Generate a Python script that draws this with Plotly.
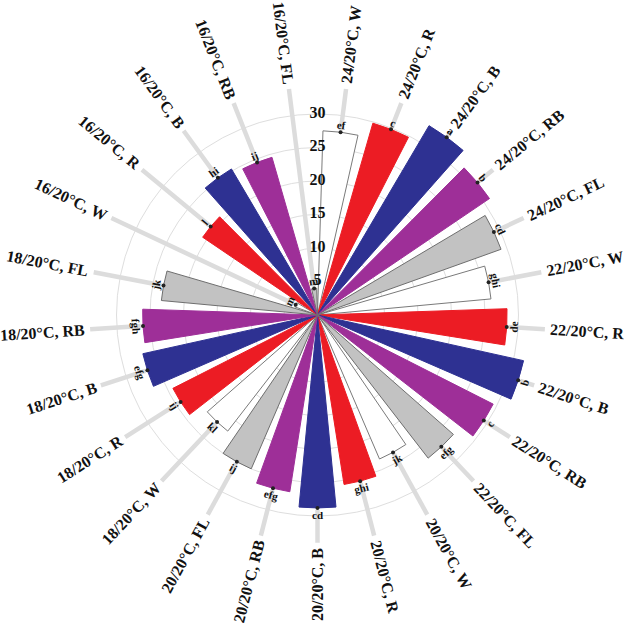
import math
import plotly.graph_objects as go

# ---- data -------------------------------------------------------------
temps = ["24/20°C", "22/20°C", "20/20°C", "18/20°C", "16/20°C"]
lights = ["W", "R", "B", "RB", "FL"]

# mean values per temperature regime, in light order W, R, B, RB, FL
vals_24 = [27.5, 29.8, 32.8, 31.0, 29.1]
vals_22 = [26.0, 28.3, 31.5, 29.4, 27.0]
vals_20 = [23.4, 25.6, 28.8, 26.7, 25.0]
vals_18 = [21.9, 24.2, 26.7, 26.1, 23.4]
vals_16 = [3.6, 20.7, 25.3, 24.5, 4.0]

# significance letters, same order
let_24 = ["ef", "c", "a", "b", "cd"]
let_22 = ["ghi", "de", "b", "c", "efg"]
let_20 = ["jk", "ghi", "cd", "efg", "ij"]
let_18 = ["kl", "ij", "efg", "fgh", "jk"]
let_16 = ["m", "l", "hi", "ij", "m"]

radial_ticks = [5, 10, 15, 20, 25, 30]

# ---- styling ------------------------------------------------------------
fills = {"W": "#ffffff", "R": "#ec1c24", "B": "#2e3192", "RB": "#9e2f98", "FL": "#c2c2c2"}
edges = {"W": "#7a7a7a", "R": "#ec1c24", "B": "#2e3192", "RB": "#9e2f98", "FL": "#6e6e6e"}
SERIF = "Liberation Serif, Times New Roman, serif"

W_PX, H_PX = 624, 623
CX, CY = 317.5, 315.0          # pixel centre of the polar area
PX_PER_UNIT = 201.0 / 30.0     # radial scale
R_MAX = 36.0                   # radial range upper bound
STEP = 360.0 / (len(temps) * len(lights))
BAR_W = 11.0

all_vals = [vals_24, vals_22, vals_20, vals_18, vals_16]
all_lets = [let_24, let_22, let_20, let_18, let_16]

cats, values, letters, thetas = [], [], [], []
for ti, t in enumerate(temps):
    for li, l in enumerate(lights):
        k = ti * len(lights) + li
        cats.append(f"{t}, {l}")
        values.append(all_vals[ti][li])
        letters.append(all_lets[ti][li])
        thetas.append(STEP / 2 + STEP * k)

fig = go.Figure()

# leader lines from bar tips out to the category labels
LEAD_END = 34.0
lr, lt = [], []
for v, th in zip(values, thetas):
    lr += [v + 0.3, LEAD_END, None]
    lt += [th, th, None]
fig.add_trace(go.Scatterpolar(r=lr, theta=lt, mode="lines",
                              line=dict(color="#dcdcdc", width=4.5),
                              hoverinfo="skip", showlegend=False))

# bars, one trace per light type
for li, l in enumerate(lights):
    rr = [all_vals[ti][li] for ti in range(len(temps))]
    tt = [thetas[ti * len(lights) + li] for ti in range(len(temps))]
    fig.add_trace(go.Barpolar(
        r=rr, theta=tt, width=BAR_W, name=l,
        marker=dict(color=fills[l], line=dict(color=edges[l], width=1)),
        showlegend=False,
    ))

# radial scale labels along the vertical axis
fig.add_trace(go.Scatterpolar(
    r=radial_ticks, theta=[0] * len(radial_ticks), mode="text",
    text=[str(t) for t in radial_ticks], textposition="middle center",
    textfont=dict(family=SERIF, size=16, color="#111111", weight="bold"),
    hoverinfo="skip", showlegend=False))

# small markers at bar tips
fig.add_trace(go.Scatterpolar(r=values, theta=thetas, mode="markers",
                              marker=dict(color="#222222", size=4),
                              hoverinfo="skip", showlegend=False))


def to_paper(r_px, th):
    a = math.radians(th)
    x = CX + r_px * math.sin(a)
    y = CY - r_px * math.cos(a)
    return x / W_PX, 1 - y / H_PX


# approximate glyph widths of a bold Times-like face, per em
CW = {"/": 0.278, "°": 0.4, "C": 0.722, ",": 0.25, " ": 0.25, "W": 1.0,
      "R": 0.722, "B": 0.667, "F": 0.611, "L": 0.667}


def text_width(s, size):
    return sum(CW.get(c, 0.5) for c in s) * size


annotations = []
LABEL_SIZE = 16
LABEL_START = 233.0
for c, th in zip(cats, thetas):
    w = text_width(c, LABEL_SIZE)
    x, y = to_paper(LABEL_START + w / 2, th)
    ang = th - 90 if th < 180 else th - 270
    annotations.append(dict(x=x, y=y, xref="paper", yref="paper", text=c,
                            showarrow=False, textangle=ang,
                            xanchor="center", yanchor="middle",
                            font=dict(family=SERIF, size=LABEL_SIZE, color="#111111",
                                      weight="bold")))

for v, s, th in zip(values, letters, thetas):
    x, y = to_paper((v + 1.1) * PX_PER_UNIT, th)
    if th <= 90:
        ang = th
    elif th >= 270:
        ang = th - 360
    else:
        ang = th - 180
    annotations.append(dict(x=x, y=y, xref="paper", yref="paper", text=s,
                            showarrow=False, textangle=ang,
                            xanchor="center", yanchor="middle",
                            font=dict(family=SERIF, size=11, color="#111111",
                                      weight="bold")))

half = R_MAX * PX_PER_UNIT
fig.update_layout(
    width=W_PX, height=H_PX,
    margin=dict(l=0, r=0, t=0, b=0),
    paper_bgcolor="white",
    barmode="overlay",
    annotations=annotations,
    polar=dict(
        domain=dict(x=[(CX - half) / W_PX, (CX + half) / W_PX],
                    y=[1 - (CY + half) / H_PX, 1 - (CY - half) / H_PX]),
        bgcolor="rgba(0,0,0,0)",
        bargap=0,
        radialaxis=dict(range=[0, R_MAX], tickvals=radial_ticks, angle=90,
                        showline=False, ticks="", showticklabels=False,
                        layer="below traces",
                        gridcolor="#dedede", gridwidth=1),
        angularaxis=dict(rotation=90, direction="clockwise", showline=False,
                         showgrid=False, showticklabels=False, ticks=""),
    ),
)

fig.write_html("out.html")
